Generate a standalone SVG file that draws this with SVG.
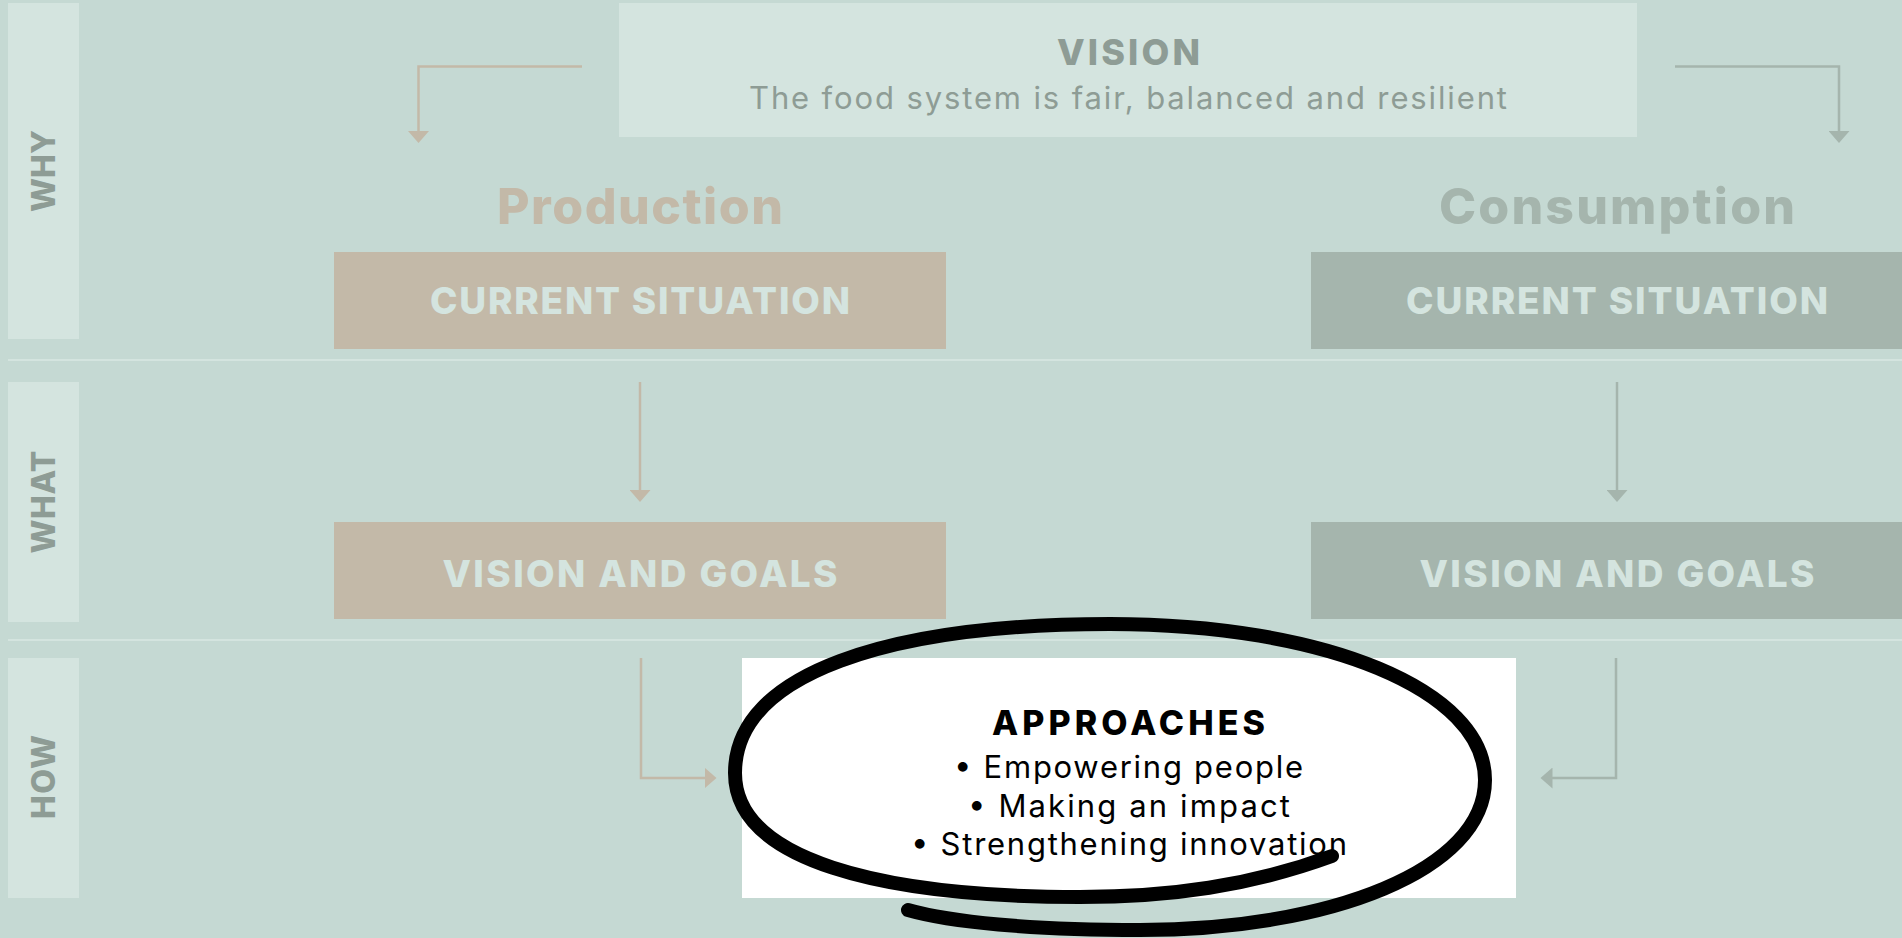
<svg xmlns="http://www.w3.org/2000/svg" width="1902" height="938" viewBox="0 0 1902 938">
<defs>
<style>
.bg{fill:#c5d9d3}
.side{fill:#d4e4df}
.sidet{font-family:Inter,"Open Sans",sans-serif;font-weight:800;font-size:32px;fill:#8e9c95;text-anchor:middle}
.tan{fill:#c3b9a8}
.grn{fill:#a5b5ad}
.boxt{font-family:Inter,"Open Sans",sans-serif;font-weight:800;font-size:37px;fill:#d4e4df;text-anchor:middle}
.head{font-family:Inter,"Open Sans",sans-serif;font-weight:800;font-size:50px;text-anchor:middle}
.sep{stroke:#d4e4df;stroke-width:2;fill:none}
.con{fill:none;stroke-width:2.5}
.ctan{stroke:#c3b9a8}
.cgrn{stroke:#a5b5ad}
.appt{font-family:Inter,"Open Sans",sans-serif;fill:#000;text-anchor:middle}
</style>
<marker id="ahTan" markerUnits="userSpaceOnUse" markerWidth="13" markerHeight="21" refX="0.5" refY="10.5" orient="auto">
<path d="M0,0 L12,10.5 L0,21 Z" fill="#c3b9a8"/>
</marker>
<marker id="ahGrn" markerUnits="userSpaceOnUse" markerWidth="13" markerHeight="21" refX="0.5" refY="10.5" orient="auto">
<path d="M0,0 L12,10.5 L0,21 Z" fill="#a5b5ad"/>
</marker>
</defs>
<rect class="bg" x="0" y="0" width="1902" height="938"/>
<g id="separators">
<line class="sep" x1="8" y1="360" x2="1902" y2="360"/>
<line class="sep" x1="8" y1="640" x2="1902" y2="640"/>
</g>
<g id="side-why">
<rect class="side" x="8" y="3" width="71" height="336"/>
<text class="sidet" transform="translate(55,171) rotate(-90)" textLength="82" lengthAdjust="spacing">WHY</text>
</g>
<g id="side-what">
<rect class="side" x="8" y="382" width="71" height="240"/>
<text class="sidet" transform="translate(55,502) rotate(-90)" textLength="103" lengthAdjust="spacing">WHAT</text>
</g>
<g id="side-how">
<rect class="side" x="8" y="658" width="71" height="240"/>
<text class="sidet" transform="translate(55,777) rotate(-90)" textLength="84" lengthAdjust="spacing">HOW</text>
</g>
<g id="vision">
<rect class="side" x="619" y="3" width="1018" height="134"/>
<text x="1128.5" y="64.5" font-family="Inter,'Open Sans',sans-serif" font-weight="800" font-size="36" fill="#8e9c95" text-anchor="middle" textLength="143" lengthAdjust="spacing">VISION</text>
<text x="1128" y="108.5" font-family="Inter,'Open Sans',sans-serif" font-size="31" fill="#8e9c95" text-anchor="middle" textLength="758" lengthAdjust="spacing">The food system is fair, balanced and resilient</text>
</g>
<g id="production-title">
<text class="head" x="640" y="224.3" fill="#c3b9a8" textLength="286" lengthAdjust="spacing">Production</text>
</g>
<g id="consumption-title">
<text class="head" x="1617" y="224.3" fill="#a5b5ad" textLength="356" lengthAdjust="spacing">Consumption</text>
</g>
<g id="prod-current">
<rect class="tan" x="334" y="252" width="612" height="97"/>
<text class="boxt" x="640" y="314.3" textLength="420" lengthAdjust="spacing">CURRENT SITUATION</text>
</g>
<g id="cons-current">
<rect class="grn" x="1311" y="252" width="612" height="97"/>
<text class="boxt" x="1617" y="314.3" textLength="422" lengthAdjust="spacing">CURRENT SITUATION</text>
</g>
<g id="prod-vision">
<rect class="tan" x="334" y="522" width="612" height="97"/>
<text class="boxt" x="640" y="586.7" textLength="395" lengthAdjust="spacing">VISION AND GOALS</text>
</g>
<g id="cons-vision">
<rect class="grn" x="1311" y="522" width="612" height="97"/>
<text class="boxt" x="1617" y="586.7" textLength="395" lengthAdjust="spacing">VISION AND GOALS</text>
</g>
<g id="connectors">
<path class="con ctan" d="M582,66.5 H418.5 V131.5" marker-end="url(#ahTan)"/>
<path class="con cgrn" d="M1675,66.5 H1839 V131.5" marker-end="url(#ahGrn)"/>
<path class="con ctan" d="M640,382 V490.5" marker-end="url(#ahTan)"/>
<path class="con cgrn" d="M1617,382 V490.5" marker-end="url(#ahGrn)"/>
<path class="con ctan" d="M641,658 V778 H705" marker-end="url(#ahTan)"/>
<path class="con cgrn" d="M1616,658 V778 H1552" marker-end="url(#ahGrn)"/>
</g>
<g id="approaches">
<rect x="742" y="658" width="774" height="240" fill="#ffffff"/>
<text class="appt" x="1128.5" y="735" font-weight="800" font-size="34" textLength="273" lengthAdjust="spacing">APPROACHES</text>
<text class="appt" x="1128.5" y="778" font-size="31" textLength="349" lengthAdjust="spacing">• Empowering people</text>
<text class="appt" x="1129" y="817" font-size="31" textLength="322" lengthAdjust="spacing">• Making an impact</text>
<text class="appt" x="1129" y="855" font-size="31" textLength="436" lengthAdjust="spacing">• Strengthening innovation</text>
</g>
<g id="highlight">
<path d="M1332,856 C1250,886 1170,897 1080,897 C880,897 735,860 735,773 C735,673 890,624 1110,624 C1325,624 1485,690 1485,780 C1485,870 1330,930 1140,930 C1030,930 950,922 908,910" fill="none" stroke="#000" stroke-width="14" stroke-linecap="round" stroke-linejoin="round"/>
</g>
</svg>
